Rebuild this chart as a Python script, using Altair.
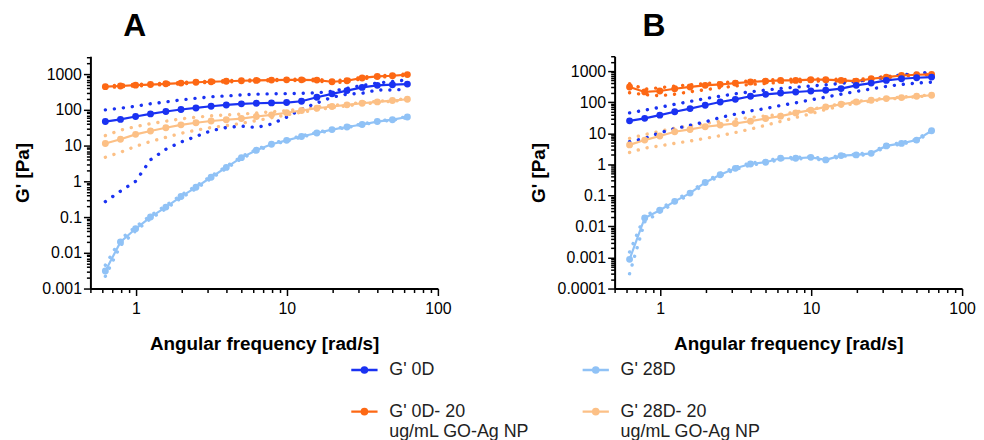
import altair as alt
import pandas as pd

freq = [0.628, 0.791, 0.996, 1.25, 1.58, 1.99, 2.5, 3.15, 3.97, 5.0, 6.28,
        7.91, 9.96, 12.5, 15.8, 19.9, 25.0, 31.5, 39.7, 50.0, 62.8]

series_names = ["G' 0D", "G' 28D", "G' 0D- 20|ug/mL GO-Ag NP", "G' 28D- 20|ug/mL GO-Ag NP"]
series_colors = ["#1a32f2", "#90c2f6", "#fd6814", "#fcc086"]
legend_col = [0, 1, 0, 1]
legend_row = [0, 0, 1, 1]

# ---- Panel A ----
A_0D_mean = [47, 54, 65, 77, 90, 102, 113, 126, 137, 147, 153, 156, 160, 174, 225, 280, 345, 425, 485, 505, 525]
A_0D_up = [100, 111, 126, 148, 166, 190, 210, 233, 245, 262, 275, 280, 285, 290, 300, 330, 400, 480, 560, 620, 690]
A_0D_lo = [0.27, 0.53, 1.0, 4.0, 7.9, 12.5, 18, 26, 32, 35, 32, 40, 62, 105, 155, 225, 275, 290, 360, 360, 380]

A_28D_mean = [0.0031, 0.02, 0.047, 0.1, 0.19, 0.375, 0.68, 1.3, 2.45, 4.6, 7.4, 10.9, 14, 18, 22.5, 28, 33, 39, 47, 53, 63]
A_28D_up = [0.0045, 0.024, 0.053, 0.11, 0.21, 0.41, 0.74, 1.4, 2.6, 4.9, 7.8, 11.4, 14.6, 18.7, 23.3, 29, 34, 40, 48.5, 54.5, 65]
A_28D_lo = [0.0022, 0.016, 0.041, 0.09, 0.17, 0.34, 0.62, 1.2, 2.3, 4.3, 7.0, 10.4, 13.4, 17.3, 21.7, 27, 32, 38, 45.5, 51.5, 61]

A_0D20_mean = [445, 465, 490, 510, 535, 560, 590, 610, 630, 650, 665, 680, 690, 690, 680, 610, 650, 780, 860, 900, 970]
A_0D20_up = [470, 490, 515, 535, 560, 585, 615, 635, 655, 675, 690, 705, 715, 720, 715, 650, 690, 820, 900, 940, 1010]
A_0D20_lo = [420, 440, 465, 485, 510, 535, 565, 585, 605, 625, 640, 655, 665, 660, 645, 570, 610, 740, 820, 860, 930]

A_28D20_mean = [11.4, 15, 20.6, 25.6, 31.6, 38, 43.6, 48.6, 52.7, 57, 65, 72.5, 83, 96, 111, 124, 138, 153, 167, 182, 198]
A_28D20_up = [19, 27, 34, 41, 48, 56, 62, 68, 72, 76, 82, 88, 95, 105, 120, 133, 146, 160, 173, 188, 205]
A_28D20_lo = [4.7, 6.5, 9.5, 13, 17, 22, 27, 32, 36, 42, 50, 60, 72, 86, 100, 115, 130, 145, 160, 175, 190]

# ---- Panel B ----
B_0D_mean = [25, 30, 38, 49, 62, 79, 101, 123, 154, 178, 196, 212, 228, 240, 272, 347, 410, 500, 565, 610, 640]
B_0D_up = [45, 55, 68, 85, 105, 130, 155, 185, 215, 245, 275, 305, 330, 360, 400, 460, 540, 640, 750, 850, 920]
B_0D_lo = [5.3, 6.8, 10.3, 14, 18, 23, 32, 41, 52, 62, 78, 95, 118, 145, 180, 220, 265, 320, 370, 410, 440]

B_28D_mean = [0.00087, 0.0187, 0.033, 0.064, 0.118, 0.26, 0.46, 0.74, 1.02, 1.16, 1.56, 1.56, 1.67, 1.38, 1.9, 2.0, 2.25, 3.9, 4.7, 6.0, 12]
B_28D_up = [0.0015, 0.022, 0.037, 0.07, 0.13, 0.28, 0.5, 0.8, 1.1, 1.25, 1.65, 1.65, 1.77, 1.48, 2.0, 2.1, 2.4, 4.1, 5.0, 6.3, 12.8]
B_28D_lo = [0.0003, 0.014, 0.029, 0.058, 0.107, 0.24, 0.42, 0.68, 0.94, 1.07, 1.47, 1.47, 1.57, 1.28, 1.8, 1.9, 2.1, 3.7, 4.4, 5.7, 11.2]

B_0D20_mean = [308, 213, 228, 270, 308, 347, 370, 410, 445, 475, 500, 500, 527, 527, 500, 475, 565, 640, 720, 760, 780]
B_0D20_up = [390, 260, 290, 330, 360, 400, 420, 450, 480, 510, 540, 545, 560, 560, 540, 520, 600, 670, 740, 780, 800]
B_0D20_lo = [200, 175, 160, 180, 215, 250, 290, 330, 370, 400, 430, 450, 470, 480, 470, 460, 530, 610, 690, 740, 770]

B_28D20_mean = [4.2, 6.0, 8.1, 11.1, 13.2, 16.1, 18.2, 20.5, 24.4, 29.6, 35.3, 45, 55, 70, 85, 101, 115, 130, 140, 154, 166]
B_28D20_up = [6.8, 9.0, 11.5, 14.5, 17, 20.5, 24, 28, 32, 36, 40, 48, 58, 72, 88, 105, 120, 135, 145, 158, 172]
B_28D20_lo = [2.4, 3.3, 3.9, 4.7, 5.6, 6.8, 8.3, 10.5, 13.5, 18, 24, 32, 42, 58, 75, 92, 108, 124, 135, 150, 160]

x_major = [1, 10, 100]
x_minor = [0.5, 0.6, 0.7, 0.8, 0.9, 2, 3, 4, 5, 6, 7, 8, 9, 20, 30, 40, 50, 60, 70, 80, 90]
A_y_major = [0.001, 0.01, 0.1, 1, 10, 100, 1000]
B_y_major = [0.0001, 0.001, 0.01, 0.1, 1, 10, 100, 1000]


def minor_ticks(lo_exp, hi_val):
    vals = []
    for e in range(lo_exp, 4):
        for m in range(2, 10):
            v = m * 10.0 ** e
            if v <= hi_val:
                vals.append(float(f"{v:.6g}"))
    return vals


def build(sets):
    rows, brows = [], []
    order = {n: k for k, n in enumerate(series_names)}
    for name, mean, up, lo in sets:
        for f, m, u, l in zip(freq, mean, up, lo):
            rows.append({"series": name, "ord": order[name], "freq": f, "mean": m})
            brows.append({"series": name, "bound": "upper", "freq": f, "value": u})
            brows.append({"series": name, "bound": "lower", "freq": f, "value": l})
    return pd.DataFrame(rows), pd.DataFrame(brows)


dfA, bA = build([
    (series_names[1], A_28D_mean, A_28D_up, A_28D_lo),
    (series_names[3], A_28D20_mean, A_28D20_up, A_28D20_lo),
    (series_names[2], A_0D20_mean, A_0D20_up, A_0D20_lo),
    (series_names[0], A_0D_mean, A_0D_up, A_0D_lo),
])
dfB, bB = build([
    (series_names[1], B_28D_mean, B_28D_up, B_28D_lo),
    (series_names[3], B_28D20_mean, B_28D20_up, B_28D20_lo),
    (series_names[2], B_0D20_mean, B_0D20_up, B_0D20_lo),
    (series_names[0], B_0D_mean, B_0D_up, B_0D_lo),
])

cscale = alt.Scale(domain=series_names, range=series_colors)
FONT = "Liberation Sans"
SYMBOL = "M-1,0L1,0M-0.2,0A0.2,0.2,0,1,1,0.2,0A0.2,0.2,0,1,1,-0.2,0Z"


def panel(df, bdf, letter, ydom, ymaj, ymin, width, dx):
    xs = alt.Scale(type="log", domain=[0.5, 100], nice=False)
    ys = alt.Scale(type="log", domain=ydom, nice=False)
    ax_x_major = alt.Axis(values=x_major, format="~g", tickSize=7, title="Angular frequency [rad/s]",
                          orient="bottom", labelPadding=5, titlePadding=18, labelFlush=False)
    ax_x_minor = alt.Axis(values=x_minor, tickSize=4, labels=False, domain=False, title=None, orient="bottom")
    ax_y_major = alt.Axis(values=ymaj, format="~g", tickSize=7, title="G' [Pa]", orient="left",
                          labelPadding=2, titlePadding=9, labelFlush=False)
    ax_y_minor = alt.Axis(values=ymin, tickSize=4, labels=False, domain=False, title=None, orient="left")

    bands = alt.Chart(bdf).mark_line(strokeDash=[0.1, 9], strokeCap="round", strokeWidth=3.4).encode(
        x=alt.X("freq:Q", scale=xs, axis=None),
        y=alt.Y("value:Q", scale=ys, axis=None),
        stroke=alt.Stroke("series:N", scale=cscale, legend=None),
        detail="bound:N",
    )
    lines = alt.Chart(df).mark_line(strokeWidth=2.2).encode(
        x=alt.X("freq:Q", scale=xs, axis=ax_x_major),
        y=alt.Y("mean:Q", scale=ys, axis=ax_y_major),
        color=alt.Color("series:N", scale=cscale, legend=None),
        order="ord:Q",
    )
    points = alt.Chart(df).mark_point(filled=True, size=48, opacity=1).encode(
        x=alt.X("freq:Q", scale=xs, axis=ax_x_minor),
        y=alt.Y("mean:Q", scale=ys, axis=ax_y_minor),
        fill=alt.Fill("series:N", scale=cscale, legend=None),
    )
    return alt.layer(bands, lines, points).resolve_axis(x="independent", y="independent").properties(
        width=width, height=234,
        title=alt.TitleParams(letter, anchor="start", frame="group", dx=dx, fontSize=32, font=FONT,
                              fontWeight="bold", color="black", offset=13),
    )


pA = panel(dfA, bA, "A", [0.001, 3162], A_y_major, minor_ticks(-3, 3000), 350, 33)
pB = panel(dfB, bB, "B", [0.0001, 3000], B_y_major, minor_ticks(-4, 3000), 350, 28)

# ---- legend, drawn from the series list ----
leg_df = pd.DataFrame({"series": series_names, "col": legend_col, "row": legend_row})
lx = alt.X("col:Q", scale=alt.Scale(domain=[0, 1], range=[276, 509]), axis=None)
ly = alt.Y("row:Q", scale=alt.Scale(domain=[0, 1], range=[17, 59]), axis=None)
leg_sym = alt.Chart(leg_df).mark_point(shape=SYMBOL, size=700, filled=True, strokeWidth=2.4, opacity=1).encode(
    x=lx, y=ly,
    fill=alt.Fill("series:N", scale=cscale, legend=None),
    stroke=alt.Stroke("series:N", scale=cscale, legend=None),
)
leg_txt = alt.Chart(leg_df).mark_text(align="left", baseline="middle", dx=25, font=FONT, fontSize=18,
                                      lineBreak="|", lineHeight=21, color="#222").encode(
    x=lx, y=ly, text="series:N",
)
leg_chart = alt.layer(leg_sym, leg_txt).properties(width=650, height=70)

top = alt.hconcat(pA, pB, spacing=78)
chart = alt.vconcat(top, leg_chart, spacing=0).properties(
    padding={"left": 5, "top": 0, "right": 0, "bottom": 0}
).configure_view(stroke=None).configure_axis(
    grid=False, domainColor="black", domainWidth=2, tickColor="black", tickWidth=1.5,
    labelFont=FONT, labelFontSize=16, labelColor="black",
    titleFont=FONT, titleFontSize=19, titleFontWeight="bold", titleColor="black",
)

chart.save("out.html", embed_options={"renderer": "svg", "actions": False})
